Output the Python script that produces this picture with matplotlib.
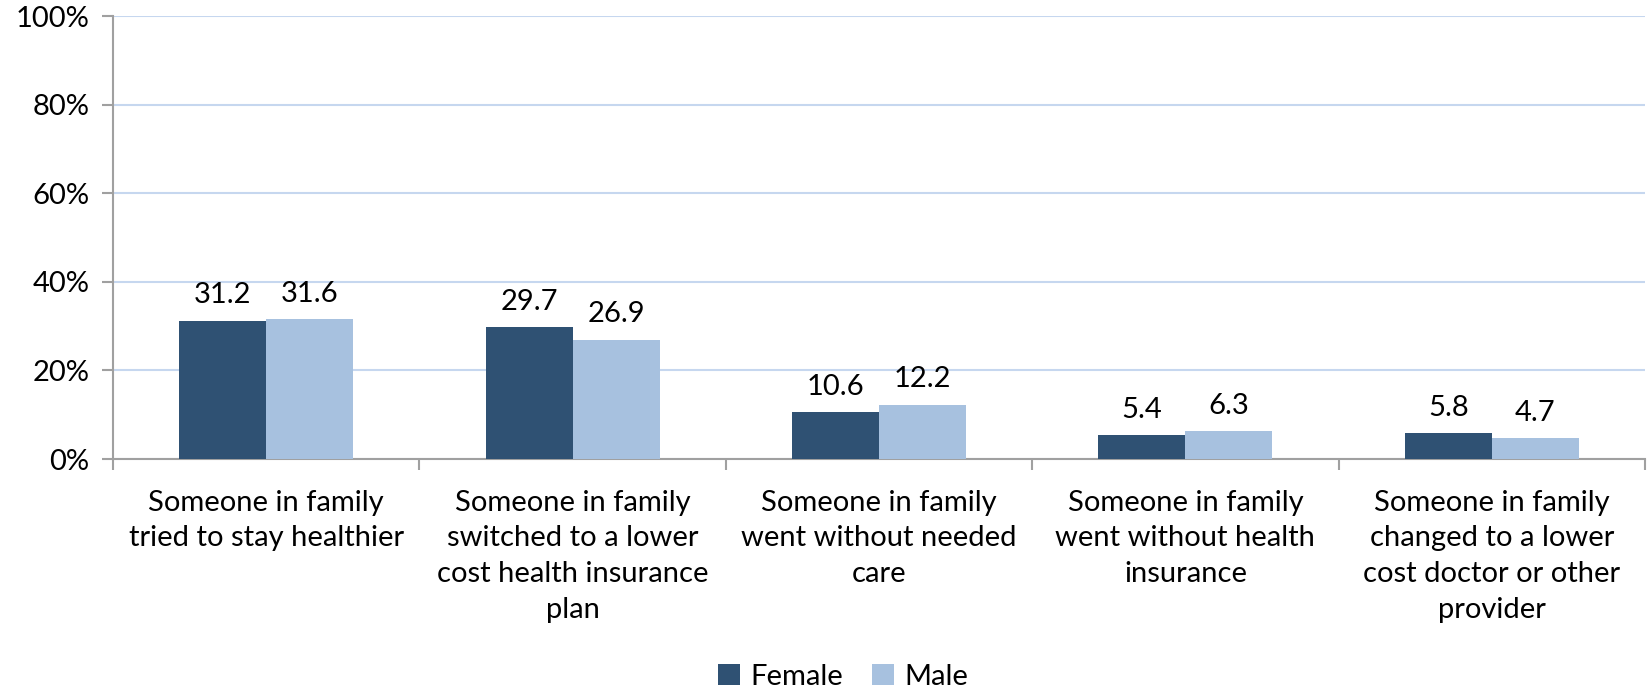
import matplotlib
matplotlib.use("Agg")
import matplotlib.pyplot as plt
import numpy as np
from matplotlib.ticker import FixedLocator

categories = [
    "Someone in family\ntried to stay healthier",
    "Someone in family\nswitched to a lower\ncost health insurance\nplan",
    "Someone in family\nwent without needed\ncare",
    "Someone in family\nwent without health\ninsurance",
    "Someone in family\nchanged to a lower\ncost doctor or other\nprovider",
]
female = [31.2, 29.7, 10.6, 5.4, 5.8]
male = [31.6, 26.9, 12.2, 6.3, 4.7]
series_names = ["Female", "Male"]
colors = ["#2F5173", "#A7C1DF"]
yticks = [0, 20, 40, 60, 80, 100]
ytick_labels = ["0%", "20%", "40%", "60%", "80%", "100%"]

plt.rcParams['font.family'] = ['Lato', 'DejaVu Sans']
FS = 21

fig = plt.figure(figsize=(16.47, 6.96), dpi=100)
ax = fig.add_axes([0.0686, 0.3405, 0.9302, 0.6365])

x = np.arange(len(categories))
w = 0.284
b1 = ax.bar(x - w/2, female, w, color=colors[0], label=series_names[0], zorder=3)
b2 = ax.bar(x + w/2, male, w, color=colors[1], label=series_names[1], zorder=3)

for bars, vals in ((b1, female), (b2, male)):
    for rect, v in zip(bars, vals):
        ax.annotate(f"{v:.1f}", (rect.get_x() + rect.get_width()/2, rect.get_height()),
                    xytext=(0, 9), textcoords="offset points",
                    ha="center", va="bottom", fontsize=FS, color="#000000")

ax.set_xlim(-0.5, len(categories) - 0.5)
ax.set_ylim(0, 100)
ax.set_yticks(yticks)
ax.set_yticklabels(ytick_labels, fontsize=FS)
ax.set_xticks(x)
ax.set_xticklabels(categories, fontsize=FS, linespacing=1.47)
ax.xaxis.set_minor_locator(FixedLocator(np.arange(-0.5, len(categories), 1.0)))
ax.tick_params(axis='x', which='major', length=0, pad=22)
ax.tick_params(axis='x', which='minor', length=8, color="#A0A0A0", width=1.5)
ax.tick_params(axis='y', length=8, color="#A0A0A0", width=1.5, pad=9)

ax.grid(axis='y', color="#C6D7EF", linewidth=1.5, zorder=0)
for s in ["top", "right"]:
    ax.spines[s].set_visible(False)
for s in ["left", "bottom"]:
    ax.spines[s].set_color("#A0A0A0")
    ax.spines[s].set_linewidth(1.5)

fig.legend(handles=[b1, b2], labels=series_names, loc="center",
           bbox_to_anchor=(0.512, 0.028), ncol=2, frameon=False, fontsize=FS,
           handlelength=0.75, handleheight=0.75, handletextpad=0.35, columnspacing=1.0,
           borderpad=0.1)

fig.savefig("out.png", dpi=100)
